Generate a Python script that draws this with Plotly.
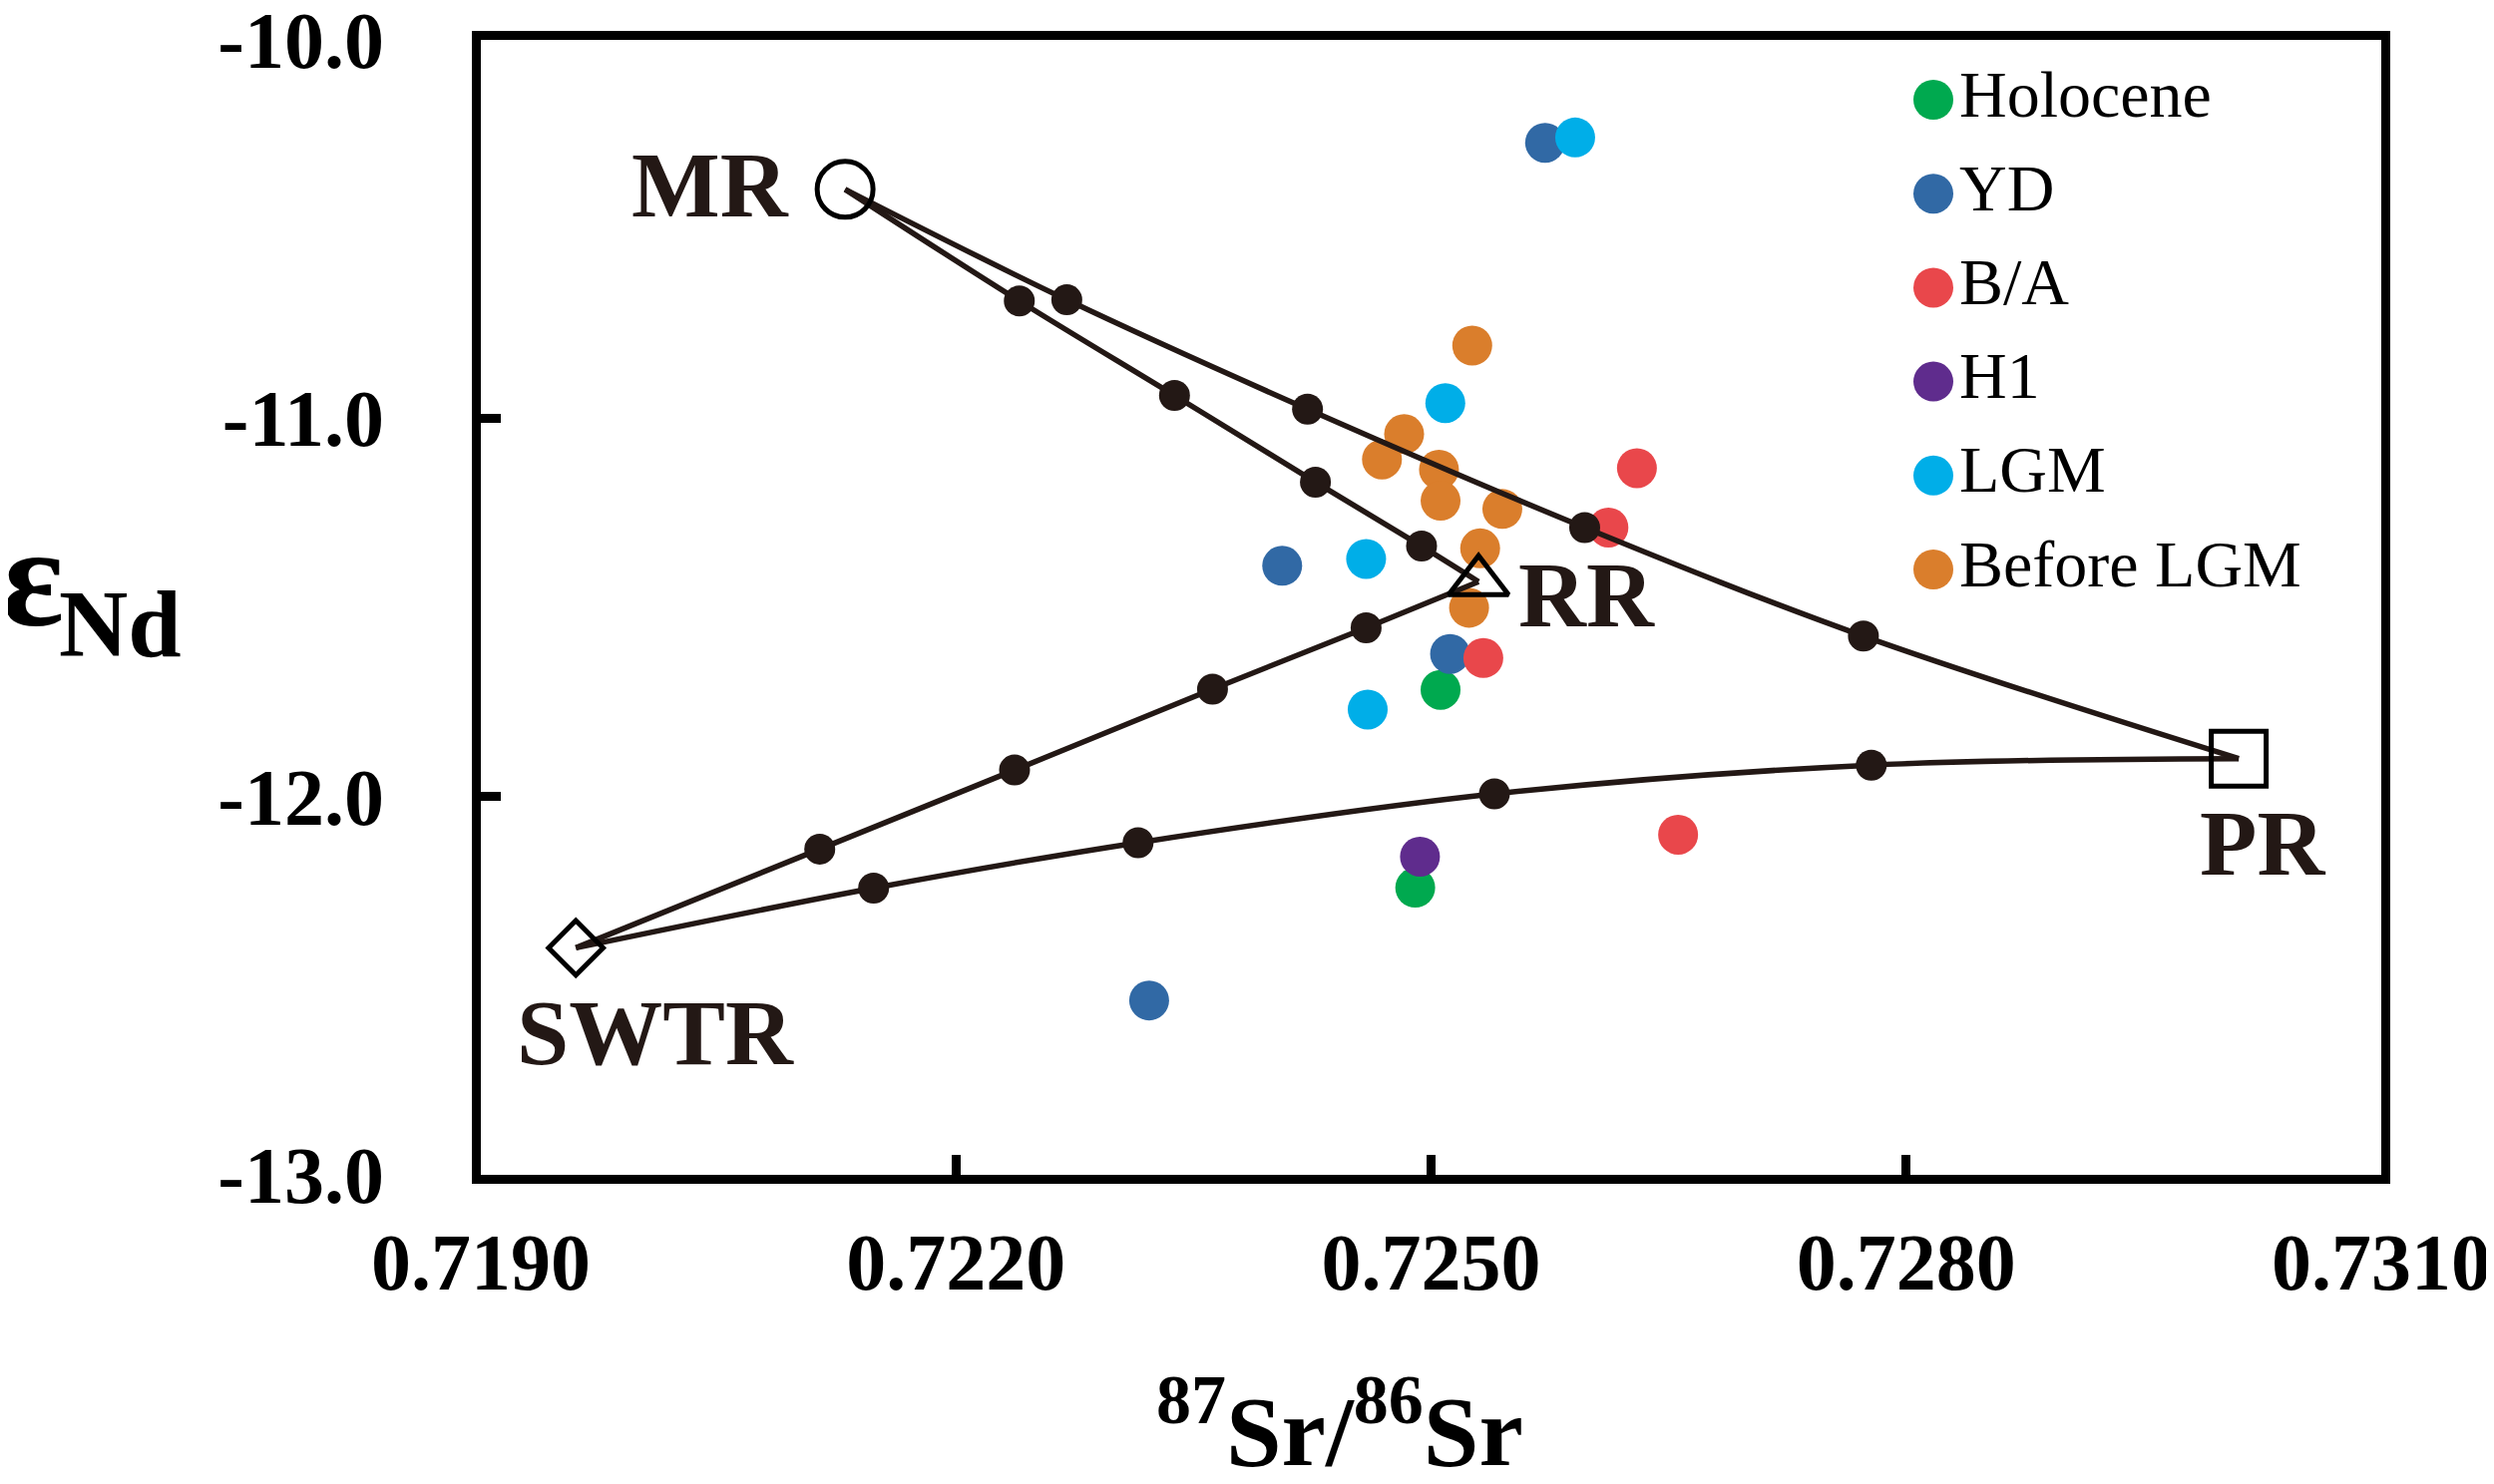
"""Sr-Nd isotope mixing diagram: end-members, mixing curves and sample groups."""

import plotly.graph_objects as go

# ------------------------------------------------------------------
# Data
# ------------------------------------------------------------------
END_NAMES = ["MR", "RR", "PR", "SWTR"]
END_SR = [0.7213, 0.7253, 0.7301, 0.7196]
END_ND = [-10.395, -11.432, -11.900, -12.400]

# intermediate mixing-ratio dots along each curve
MR_PR_SR = [0.72270, 0.72422, 0.72597, 0.72773]
MR_PR_ND = [-10.687, -10.976, -11.289, -11.576]
MR_RR_SR = [0.72240, 0.72338, 0.72427, 0.72494]
MR_RR_ND = [-10.690, -10.940, -11.169, -11.338]
SWTR_RR_SR = [0.72114, 0.72237, 0.72362, 0.72459]
SWTR_RR_ND = [-12.139, -11.930, -11.716, -11.554]
SWTR_PR_SR = [0.72148, 0.72315, 0.72540, 0.72778]
SWTR_PR_ND = [-12.242, -12.122, -11.993, -11.917]

# sample groups
GROUPS = ["Holocene", "YD", "B/A", "H1", "LGM", "Before LGM"]
HOLOCENE_SR = [0.72506, 0.72490]
HOLOCENE_ND = [-11.718, -12.241]
YD_SR = [0.72572, 0.72406, 0.72512, 0.72322]
YD_ND = [-10.272, -11.390, -11.623, -12.539]
BA_SR = [0.72630, 0.72612, 0.72533, 0.72656]
BA_ND = [-11.132, -11.289, -11.634, -12.101]
H1_SR = [0.72493]
H1_ND = [-12.159]
LGM_SR = [0.72591, 0.72509, 0.72459, 0.72460]
LGM_ND = [-10.258, -10.960, -11.372, -11.770]
BLGM_SR = [0.72526, 0.72483, 0.72469, 0.72505, 0.72506, 0.72545, 0.72531, 0.72524]
BLGM_ND = [-10.808, -11.042, -11.109, -11.136, -11.218, -11.240, -11.344, -11.501]

X_TICKS = [0.7190, 0.7220, 0.7250, 0.7280, 0.7310]
X_TICK_TEXT = ["0.7190", "0.7220", "0.7250", "0.7280", "0.7310"]
Y_TICKS = [-10.0, -11.0, -12.0, -13.0]
Y_TICK_TEXT = ["-10.0", "-11.0", "-12.0", "-13.0"]

# ------------------------------------------------------------------
# Styling
# ------------------------------------------------------------------
SERIF = "Liberation Serif, Times New Roman, serif"
INK = "#231815"
COLORS = {
    "Holocene": "#00A94F",
    "YD": "#3169A5",
    "B/A": "#E9474B",
    "H1": "#5F2C8D",
    "LGM": "#00AEE8",
    "Before LGM": "#DA7E2C",
}
SAMPLES = {
    "Holocene": (HOLOCENE_SR, HOLOCENE_ND),
    "YD": (YD_SR, YD_ND),
    "B/A": (BA_SR, BA_ND),
    "H1": (H1_SR, H1_ND),
    "LGM": (LGM_SR, LGM_ND),
    "Before LGM": (BLGM_SR, BLGM_ND),
}

# page body has an 8px default margin, so the figure is 16px smaller than the window
PAGE_PAD = 8
W, H = 2500 - 2 * PAGE_PAD, 1488 - 2 * PAGE_PAD
# plot box in window pixels
L, R, T, B = 482 - PAGE_PAD, 2387 - PAGE_PAD, 40 - PAGE_PAD, 1178 - PAGE_PAD


def px_to_paper(px, py):
    """window pixel -> paper coords"""
    px, py = px - PAGE_PAD, py - PAGE_PAD
    return (px - L) / (R - L), (B - py) / (B - T)


fig = go.Figure()

# ==== sample points ====
for name in GROUPS:
    xs, ys = SAMPLES[name]
    fig.add_trace(go.Scatter(
        x=xs, y=ys, mode="markers", name=name, showlegend=False,
        marker=dict(color=COLORS[name], size=40, line=dict(width=0)),
    ))

# ==== mixing curves ====
idx = {n: i for i, n in enumerate(END_NAMES)}
curves = [
    ("MR", "PR", MR_PR_SR, MR_PR_ND),
    ("MR", "RR", MR_RR_SR, MR_RR_ND),
    ("SWTR", "RR", SWTR_RR_SR, SWTR_RR_ND),
    ("SWTR", "PR", SWTR_PR_SR, SWTR_PR_ND),
]
for a, b, xs, ys in curves:
    cx = [END_SR[idx[a]]] + xs + [END_SR[idx[b]]]
    cy = [END_ND[idx[a]]] + ys + [END_ND[idx[b]]]
    fig.add_trace(go.Scatter(
        x=cx, y=cy, mode="lines", showlegend=False, hoverinfo="skip",
        line=dict(color=INK, width=5.5, shape="spline", smoothing=1.0),
    ))
    fig.add_trace(go.Scatter(
        x=xs, y=ys, mode="markers", showlegend=False,
        marker=dict(color=INK, size=31),
    ))

# ==== end-member symbols ====
end_style = {
    "MR": ("circle-open", 56),
    "RR": ("triangle-up-open", 52),
    "PR": ("square-open", 55),
    "SWTR": ("diamond-open", 42),
}
for i, n in enumerate(END_NAMES):
    sym, size = end_style[n]
    fig.add_trace(go.Scatter(
        x=[END_SR[i]], y=[END_ND[i]], mode="markers", showlegend=False,
        marker=dict(symbol=sym, size=size, color="black", line=dict(color="black", width=5)),
    ))

# end-member labels (positions in data units)
label_pos = {
    "MR": (0.72045, -10.382),
    "RR": (0.72598, -11.467),
    "PR": (0.73025, -12.122),
    "SWTR": (0.72010, -12.622),
}
for n in END_NAMES:
    lx, ly = label_pos[n]
    fig.add_annotation(
        x=lx, y=ly, text=n, showarrow=False, xanchor="center", yanchor="middle",
        font=dict(family=SERIF, size=94, color=INK, weight="bold"),
    )

# ==== custom legend (overlay axes in 0..1 units) ====
leg_x0, leg_y0 = px_to_paper(1938, 100)
leg_dy = 94.2 / (B - T)
fig.add_trace(go.Scatter(
    x=[leg_x0] * len(GROUPS),
    y=[leg_y0 - i * leg_dy for i in range(len(GROUPS))],
    xaxis="x2", yaxis="y2",
    mode="markers+text", text=GROUPS, textposition="middle right",
    textfont=dict(family=SERIF, size=66, color="black"),
    marker=dict(color=[COLORS[g] for g in GROUPS], size=40),
    showlegend=False, hoverinfo="skip",
))

# ==== axis titles ====
tx, ty = px_to_paper(1343, 1428)
fig.add_annotation(
    xref="paper", yref="paper", x=tx, y=ty, showarrow=False,
    xanchor="center", yanchor="middle",
    text="<sup>87</sup>Sr/<sup>86</sup>Sr",
    font=dict(family=SERIF, size=100, color="black", weight="bold"),
)
ex, ey = px_to_paper(33, 578)
fig.add_annotation(
    xref="paper", yref="paper", x=ex, y=ey, showarrow=False,
    xanchor="center", yanchor="middle", text="ε",
    font=dict(family=SERIF, size=145, color="black", weight="bold"),
)
nx, ny = px_to_paper(120, 625)
fig.add_annotation(
    xref="paper", yref="paper", x=nx, y=ny, showarrow=False,
    xanchor="center", yanchor="middle", text="Nd",
    font=dict(family=SERIF, size=96, color="black", weight="bold"),
)

# ------------------------------------------------------------------
# Layout
# ------------------------------------------------------------------
axis_common = dict(
    showline=True, linecolor="black", linewidth=9, mirror=True,
    ticks="inside", ticklen=20, tickwidth=9, tickcolor="black",
    showgrid=False, zeroline=False, ticklabeloverflow="allow",
    automargin=False,
    tickfont=dict(family=SERIF, size=80, color="black", weight="bold"),
)

fig.update_layout(
    width=W, height=H,
    margin=dict(l=L, r=W - R, t=T, b=H - B, autoexpand=False),
    paper_bgcolor="white", plot_bgcolor="white",
    showlegend=False,
    xaxis=dict(range=[0.7190, 0.7310], tickvals=X_TICKS, ticktext=X_TICK_TEXT,
               ticklabelstandoff=10, **axis_common),
    yaxis=dict(range=[-13.0, -10.0], tickvals=Y_TICKS, ticktext=Y_TICK_TEXT,
               ticklabelstandoff=72, **axis_common),
    xaxis2=dict(overlaying="x", range=[0, 1], visible=False),
    yaxis2=dict(overlaying="y", range=[0, 1], visible=False),
)

fig.write_html("out.html")
